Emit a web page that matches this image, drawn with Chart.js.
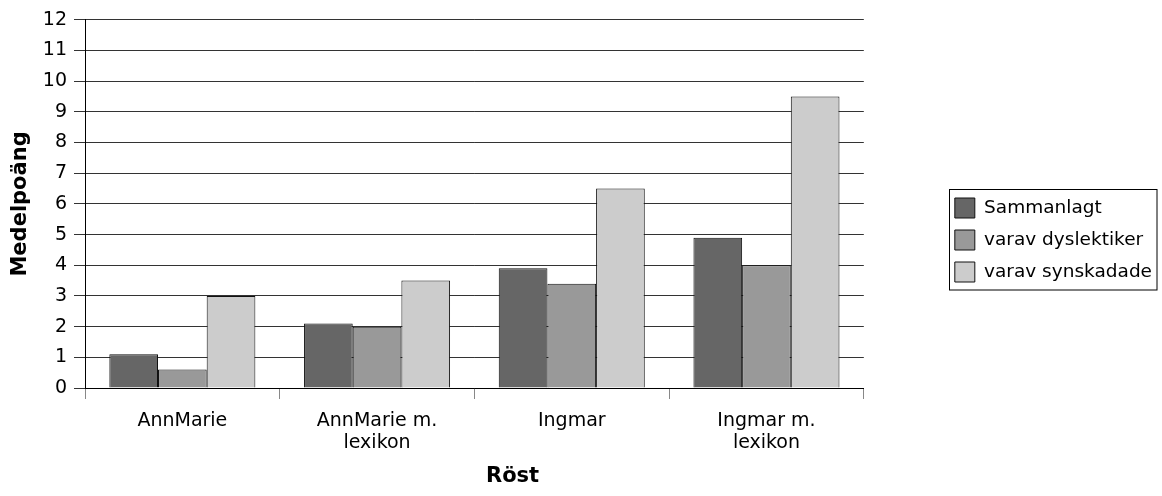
<!DOCTYPE html>
<html>
<head>
<meta charset="utf-8">
<script src="https://cdn.jsdelivr.net/npm/chart.js@4/dist/chart.umd.min.js"></script>
<style>
  html, body { margin: 0; padding: 0; background: #fff; }
  #wrap { width: 1162px; height: 496px; position: relative; }
</style>
</head>
<body>
<div id="wrap"><canvas id="myChart"></canvas></div>
<script>
const categories = ['AnnMarie', ['AnnMarie m.', 'lexikon'], 'Ingmar', ['Ingmar m.', 'lexikon']];
const seriesNames = ['Sammanlagt', 'varav dyslektiker', 'varav synskadade'];
const sammanlagt = [1.1, 2.1, 3.9, 4.9];
const dyslektiker = [0.6, 2.0, 3.4, 4.0];
const synskadade = [3.0, 3.5, 6.5, 9.5];
const yTicks = [0, 1, 2, 3, 4, 5, 6, 7, 8, 9, 10, 11, 12];
const xTitle = 'Röst';
const yTitle = 'Medelpoäng';

const fills = ['#666666', '#999999', '#cccccc'];
const font = 'DejaVu Sans';

// frame round the legend, like the original
const legendFrame = {
    id: 'legendFrame',
    afterDraw(chart) {
        const boxes = chart.legend && chart.legend.legendHitBoxes;
        if (!boxes || !boxes.length) return;
        const first = boxes[0], last = boxes[boxes.length - 1];
        const right = Math.max(...boxes.map(b => b.left + b.width));
        const ctx = chart.ctx;
        ctx.save();
        ctx.strokeStyle = '#000';
        ctx.lineWidth = 1;
        const x = Math.round(first.left - 6) + 0.5;
        const y = Math.round(first.top - 9) + 0.5;
        ctx.strokeRect(x, y, Math.round(right + 5) - x, Math.round(last.top + last.height + 8) - y);
        ctx.restore();
    }
};

// x axis title sits a bit right of the middle in the original
const xAxisTitle = {
    id: 'xAxisTitle',
    afterDraw(chart) {
        const s = chart.scales.x;
        const ctx = chart.ctx;
        ctx.save();
        ctx.font = 'bold 21px "' + font + '"';
        ctx.fillStyle = '#000';
        ctx.textAlign = 'center';
        ctx.textBaseline = 'middle';
        ctx.fillText(xTitle, s.left + s.width * 0.549, s.bottom - 3);
        ctx.restore();
    }
};

document.addEventListener('DOMContentLoaded', function() {
    const ctx = document.getElementById('myChart').getContext('2d');

    new Chart(ctx, {
        type: 'bar',
        data: {
            labels: categories,
            datasets: [sammanlagt, dyslektiker, synskadade].map((vals, i) => ({
                label: seriesNames[i],
                data: vals,
                backgroundColor: fills[i],
                borderColor: '#111',
                borderWidth: 1,
                categoryPercentage: 0.75,
                barPercentage: 1.0
            }))
        },
        plugins: [legendFrame, xAxisTitle],
        options: {
            responsive: true,
            maintainAspectRatio: false,
            animation: false,
            layout: { padding: { top: 0, right: 0, bottom: 16, left: 0 } },
            plugins: {
                tooltip: { enabled: false },
                legend: {
                    position: 'right',
                    maxWidth: 240,
                    labels: {
                        boxWidth: 20,
                        boxHeight: 20,
                        padding: 12,
                        color: '#000',
                        font: { family: font, size: 18.5 }
                    }
                }
            },
            scales: {
                x: {
                    grid: {
                        offset: true,
                        drawOnChartArea: false,
                        drawTicks: true,
                        tickLength: 11,
                        color: '#888'
                    },
                    border: { color: '#000', width: 1 },
                    ticks: {
                        color: '#000',
                        padding: 11,
                        maxRotation: 0,
                        autoSkip: false,
                        font: { family: font, size: 19, lineHeight: 1.15 }
                    },
                    title: { display: false },
                    afterFit: s => { s.height = 92; }
                },
                y: {
                    min: yTicks[0],
                    max: yTicks[yTicks.length - 1],
                    afterBuildTicks: s => { s.ticks = yTicks.map(v => ({ value: v })); },
                    grid: { color: '#333', lineWidth: 1, tickLength: 11 },
                    border: { color: '#000', width: 1 },
                    ticks: {
                        color: '#000',
                        padding: 7,
                        font: { family: font, size: 19, lineHeight: 1.35 }
                    },
                    title: {
                        display: true,
                        text: yTitle,
                        color: '#000',
                        padding: { top: 8, bottom: 0 },
                        font: { family: font, size: 21, weight: 'bold' }
                    },
                    afterFit: s => { s.width = 85; }
                },
                gap: {
                    type: 'linear',
                    position: 'right',
                    display: true,
                    grid: { display: false, drawTicks: false },
                    border: { display: false },
                    ticks: { display: false },
                    afterFit: s => { s.width = 79; }
                }
            }
        }
    });
});
</script>
</body>
</html>
